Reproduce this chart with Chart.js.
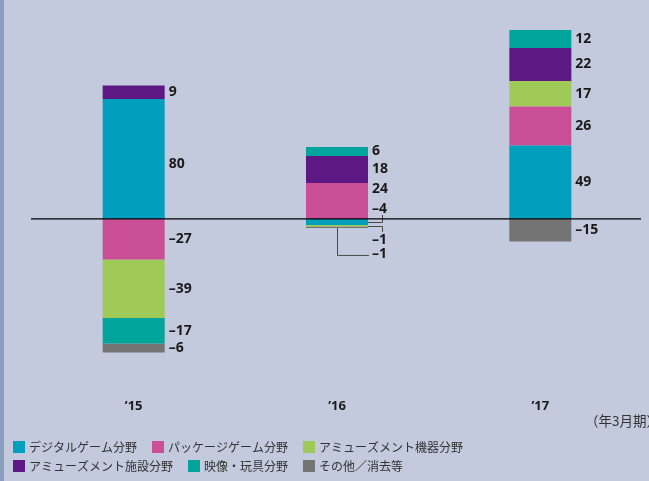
<!DOCTYPE html>
<html>
<head>
<meta charset="utf-8">
<script src="https://cdn.jsdelivr.net/npm/chart.js@4.4.1/dist/chart.umd.min.js"></script>
<style>
html, body { margin: 0; padding: 0; background: #c4cade; }
canvas { display: block; }
</style>
</head>
<body>
<canvas id="myChart" width="649" height="481"></canvas>
<script>
// 年3月期
const years = ['’15', '’16', '’17'];

const digitalGame       = [80, -4, 49];
const packageGame       = [-27, 24, 26];
const amusementMachine  = [-39, -1, 17];
const amusementFacility = [9, 18, 22];
const videoToys         = [-17, 6, 12];
const otherElim         = [-6, -1, -15];

const seriesNames = ['デジタルゲーム分野', 'パッケージゲーム分野', 'アミューズメント機器分野',
                     'アミューズメント施設分野', '映像・玩具分野', 'その他／消去等'];
const seriesColors = ['#009fbd', '#cb4f96', '#a0ca57', '#5d1884', '#00a49a', '#747474'];
const unitNote = '（年3月期）';

const valueFont = 'bold 14px "Open Sans", sans-serif';
const legendFont = '12px "Noto Sans CJK JP", sans-serif';

function fmt(v) {
    return v < 0 ? '–' + Math.abs(v) : String(v);
}

const paint = {
    id: 'paint',
    beforeDraw(chart) {
        const c = chart.ctx;
        c.save();
        c.fillStyle = '#c4cade';
        c.fillRect(0, 0, chart.width, chart.height);
        c.fillStyle = '#8a9ec0';
        c.fillRect(0, 0, 4, chart.height);
        c.restore();
    },
    afterDatasetsDraw(chart) {
        const c = chart.ctx;
        const area = chart.chartArea;
        const y0 = chart.scales.y.getPixelForValue(0);
        c.save();

        // value labels
        c.font = valueFont;
        c.fillStyle = '#1a1a1a';
        c.textAlign = 'left';
        c.textBaseline = 'middle';
        chart.data.datasets.forEach(function (ds, i) {
            const meta = chart.getDatasetMeta(i);
            ds.data.forEach(function (v, j) {
                if (!v) return;
                const el = meta.data[j];
                let x = el.x + el.width / 2 + 4;
                let y = (el.y + el.base) / 2;
                if (i === 0 && j === 0) y += 5;
                if (j === 1) {
                    if (i === 1) y -= 12;
                    if (i === 0) y = y0 - 10;
                    if (i === 2) y = y0 + 21;
                    if (i === 5) y = y0 + 35;
                }
                c.fillText(fmt(v), x, y);
            });
        });

        // leader lines for the small '16 values
        const right = function (el) { return el.x + el.width / 2; };
        const dg = chart.getDatasetMeta(0).data[1];
        const am = chart.getDatasetMeta(2).data[1];
        const ot = chart.getDatasetMeta(5).data[1];
        c.strokeStyle = '#4a4a4a';
        c.lineWidth = 1;
        c.beginPath();
        let ym = Math.round((dg.y + dg.base) / 2) + 0.5;
        c.moveTo(right(dg), ym);
        c.lineTo(right(dg) + 14.5, ym);
        c.lineTo(right(dg) + 14.5, y0 - 4);
        ym = Math.round((am.y + am.base) / 2) + 0.5;
        c.moveTo(right(am), ym);
        c.lineTo(right(am) + 14.5, ym);
        c.lineTo(right(am) + 14.5, y0 + 13);
        const cx = Math.round(ot.x) + 0.5;
        c.moveTo(cx, ot.y);
        c.lineTo(cx, y0 + 36.5);
        c.lineTo(right(ot) + 1, y0 + 36.5);
        c.stroke();

        // zero line
        c.strokeStyle = '#000';
        c.lineWidth = 1.2;
        c.beginPath();
        c.moveTo(area.left - 1, y0);
        c.lineTo(area.right - 1, y0);
        c.stroke();
        c.restore();
    },
    afterDraw(chart) {
        const c = chart.ctx;
        c.save();
        c.font = legendFont;
        c.textBaseline = 'middle';
        c.textAlign = 'left';
        const rows = [[0, 1, 2], [3, 4, 5]];
        rows.forEach(function (row, r) {
            let x = 13;
            const y = 447 + r * 19;
            row.forEach(function (i) {
                c.fillStyle = seriesColors[i];
                c.fillRect(x, y - 6, 12, 12);
                c.fillStyle = '#333';
                c.fillText(seriesNames[i], x + 16, y);
                x += 16 + c.measureText(seriesNames[i]).width + 15;
            });
        });
        c.fillStyle = '#333';
        c.font = '13.5px "Noto Sans CJK JP", sans-serif';
        c.fillText(unitNote, 585, 421);
        c.restore();
    }
};

const ctx = document.getElementById('myChart').getContext('2d');
const seriesData = [digitalGame, packageGame, amusementMachine, amusementFacility, videoToys, otherElim];

const myChart = new Chart(ctx, {
    type: 'bar',
    data: {
        labels: years,
        datasets: seriesData.map(function (d, i) {
            return {
                label: seriesNames[i],
                data: d,
                backgroundColor: seriesColors[i],
                borderWidth: 0,
                categoryPercentage: 1,
                barPercentage: 0.305
            };
        })
    },
    options: {
        responsive: false,
        animation: false,
        devicePixelRatio: 1,
        layout: { padding: { left: 32, right: 7, top: 24, bottom: 63 } },
        plugins: {
            legend: { display: false },
            tooltip: { enabled: false }
        },
        scales: {
            x: {
                stacked: true,
                grid: { display: false, drawTicks: false },
                border: { display: false },
                ticks: {
                    padding: 4,
                    color: '#1a1a1a',
                    font: { family: '"Open Sans", sans-serif', size: 13, weight: 'bold' }
                }
            },
            y: {
                stacked: true,
                display: false,
                min: -117,
                max: 130
            }
        }
    },
    plugins: [paint]
});
</script>
</body>
</html>
